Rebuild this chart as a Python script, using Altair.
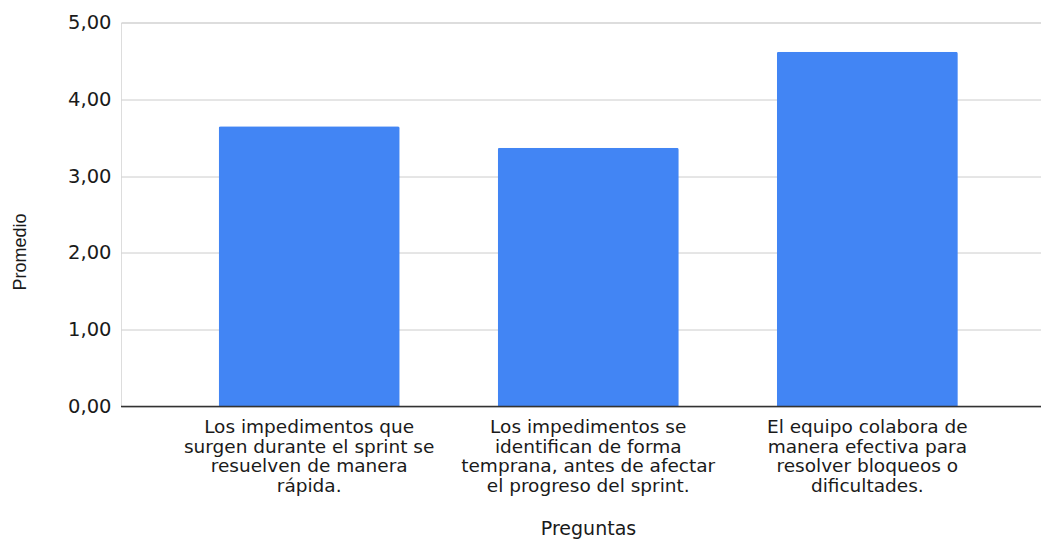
import altair as alt
import pandas as pd

preguntas = [
    "Los impedimentos que\nsurgen durante el sprint se\nresuelven de manera\nrápida.",
    "Los impedimentos se\nidentifican de forma\ntemprana, antes de afectar\nel progreso del sprint.",
    "El equipo colabora de\nmanera efectiva para\nresolver bloqueos o\ndificultades.",
]
promedio = [3.65, 3.37, 4.62]

df = pd.DataFrame({"Preguntas": preguntas, "Promedio": promedio})

bars = alt.Chart(df).mark_bar(
    color="#4285F4", cornerRadiusTopLeft=2, cornerRadiusTopRight=2
).encode(
    x=alt.X(
        "Preguntas:N",
        sort=preguntas,
        scale=alt.Scale(paddingInner=0.3513, paddingOuter=0.324, align=0.54),
        axis=alt.Axis(
            title="Preguntas",
            labelAngle=0,
            labelExpr="split(datum.label, '\\n')",
            labelFont="DejaVu Sans",
            labelFontSize=18.5,
            labelLineHeight=19.5,
            labelColor="#1a1a1a",
            labelPadding=11,
            labelBaseline="top",
            labelLimit=400,
            ticks=False,
            domain=False,
            grid=False,
            titleFont="DejaVu Sans",
            titleFontSize=19,
            titleFontWeight="normal",
            titleColor="#1a1a1a",
            titlePadding=25,
            titleX=467,
            titleAlign="center",
        ),
    ),
    y=alt.Y(
        "Promedio:Q",
        scale=alt.Scale(domain=[0, 5]),
        axis=alt.Axis(
            title="Promedio",
            values=[0, 1, 2, 3, 4, 5],
            labelExpr="replace(format(datum.value, '.2f'), '.', ',')",
            labelFont="DejaVu Sans",
            labelFontSize=19.5,
            labelColor="#1a1a1a",
            labelPadding=10,
            ticks=False,
            domain=False,
            gridColor="#cccccc",
            gridWidth=1,
            titleFont="Liberation Sans",
            titleFontSize=18,
            titleFontWeight="normal",
            titleColor="#1a1a1a",
            titleAngle=270,
            titleX=-92,
            titleY=229,
            titleAlign="center",
        ),
    ),
)

baseline = alt.Chart(pd.DataFrame({"v": [0]})).mark_rule(color="#333333", strokeWidth=1.5).encode(
    y="v:Q"
)

chart = alt.layer(bars, baseline).properties(
    width=920,
    height=384,
    autosize=alt.AutoSizeParams(type="none"),
    padding={"left": 113, "top": 14.5, "right": 0, "bottom": 133},
).configure_view(stroke=None).configure(background="white")

chart.save("out.html", embed_options={"renderer": "svg", "actions": False})
